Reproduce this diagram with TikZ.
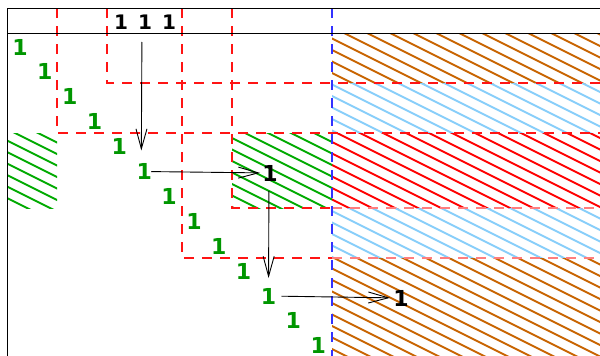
\documentclass[tikz,border=0pt]{standalone}
\usepackage{fontspec}
\setmainfont{DejaVu Sans}
\usetikzlibrary{arrows.meta}
\definecolor{dgreen}{RGB}{0,150,0}
\definecolor{hgreen}{RGB}{0,170,0}
\definecolor{hbrown}{RGB}{200,100,0}
\definecolor{hblue}{RGB}{135,206,250}
\definecolor{hred}{RGB}{255,0,0}
\definecolor{dred}{RGB}{255,20,20}
\definecolor{dblue}{RGB}{50,50,255}
\newcommand{\hatchbox}[5]{%
  \begin{scope}
    \clip (#1,#2) rectangle (#3,#4);
    \foreach \hc in {-300,-288.5,...,360}
      \draw[#5, line width=2pt] (0,\hc) -- (620,\hc+310);
  \end{scope}}
\begin{document}
\begin{tikzpicture}[x=1pt,y=-1pt,
  one/.style={font=\bfseries\fontsize{22}{22}\selectfont, inner sep=0pt},
  gone/.style={one, text=dgreen},
  bone/.style={one, text=black},
  topone/.style={font=\bfseries\fontsize{20}{20}\selectfont, inner sep=0pt, text=black},
  arr/.style={-{Straight Barb[length=20pt,width=11pt]}, line width=0.9pt},
  rdash/.style={dred, line width=1.2pt, dash pattern=on 10pt off 8pt},
  pdash/.style={dred!55, line width=1.2pt, dash pattern=on 10pt off 8pt},
  bdash/.style={dblue, line width=1.4pt, dash pattern=on 10pt off 8pt},
  frame/.style={black, line width=1pt}]
\useasboundingbox (0,0) rectangle (600,356);
\fill[white] (0,0) rectangle (600,356);
% hatched blocks
\hatchbox{332}{33}{600}{83}{hbrown}
\hatchbox{332}{83}{600}{133}{hblue}
\hatchbox{332}{133}{600}{208}{hred}
\hatchbox{332}{208}{600}{258}{hblue}
\hatchbox{332}{258}{600}{356}{hbrown}
\hatchbox{7}{133}{57}{208}{hgreen}
\hatchbox{232}{133}{332}{208}{hgreen}
% red dashed blocks
\draw[rdash] (57,8) -- (57,133) -- (600,133);
\draw[rdash] (107,8) -- (107,83) -- (600,83);
\draw[rdash] (182,8) -- (182,258) -- (332,258);
\draw[pdash] (332,258) -- (600,258);
\draw[rdash] (232,8) -- (232,208) -- (332,208);
\draw[pdash] (332,208) -- (600,208);
% blue dashed divider
\draw[bdash] (332,8) -- (332,356);
% frame
\draw[frame] (600,8) -- (7,8) -- (7,356);
\draw[frame] (7,33) -- (600,33);
% top ones
\node[topone] (t1) at (121,22) {1};
\node[topone] (t2) at (145,22) {1};
\node[topone] (t3) at (169,22) {1};
% diagonal ones
\foreach \i in {1,...,13}
  \node[gone] (g\i) at ({20+24.85*(\i-1)},{47+24.9*(\i-1)}) {1};
% black ones
\node[bone] (b1) at (270,173) {1};
\node[bone] (b2) at (401,298) {1};
% arrows
\draw[arr, shorten <=20pt, shorten >=21pt] ([xshift=-3pt]t2.center) -- ([xshift=-3pt]g6.center);
\draw[arr, shorten <=7pt, shorten >=10pt] (g6.center) -- (b1.center);
\draw[arr, shorten <=18pt, shorten >=18pt] ([xshift=-1pt]b1.center) -- (g11.center);
\draw[arr, shorten <=13pt, shorten >=11pt] (g11.center) -- (b2.center);
\end{tikzpicture}
\end{document}
